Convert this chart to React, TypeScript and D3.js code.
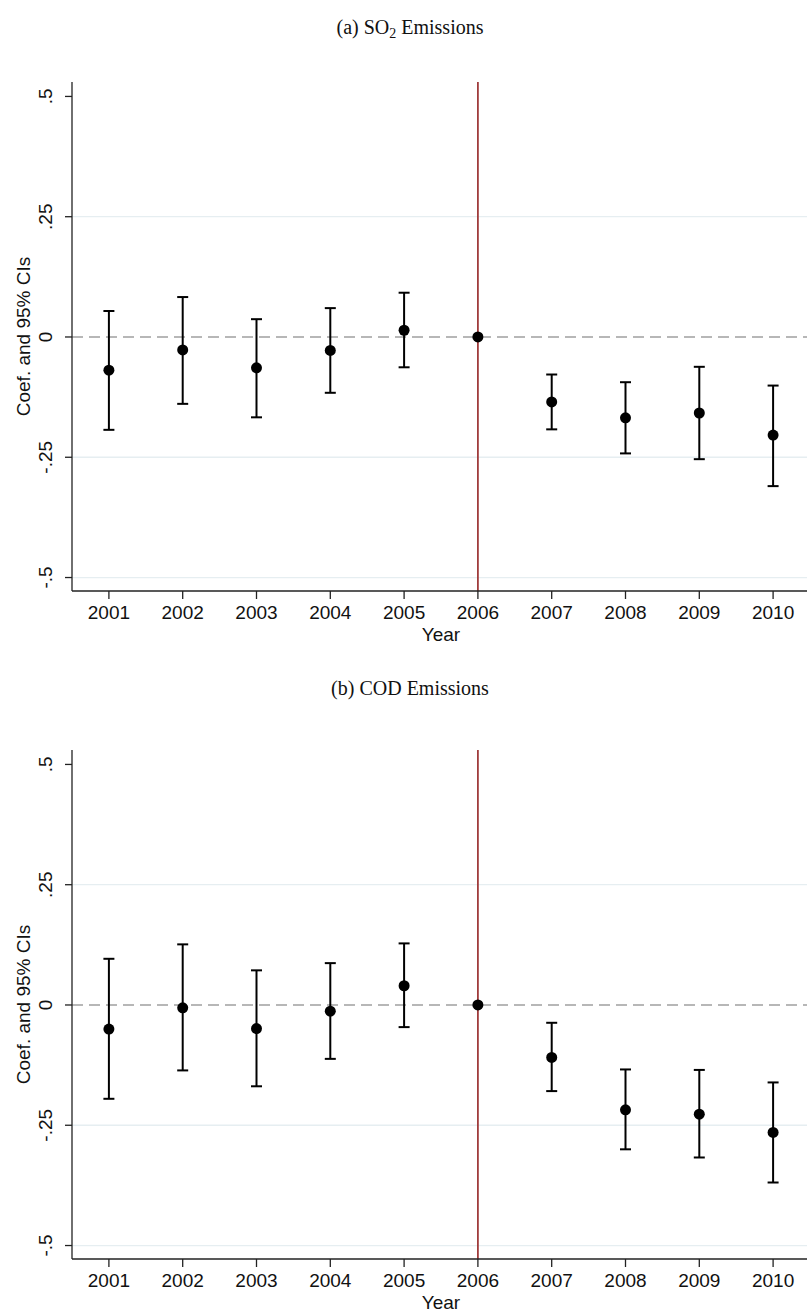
import React from "react";
import * as d3 from "d3";

const years = [2001, 2002, 2003, 2004, 2005, 2006, 2007, 2008, 2009, 2010];
const yTicks = [-0.5, -0.25, 0, 0.25, 0.5];
const yTickLabels = ["-.5", "-.25", "0", ".25", ".5"];

const so2Coef = [-0.069, -0.027, -0.064, -0.028, 0.014, 0, -0.135, -0.168, -0.158, -0.204];
const so2Lo = [-0.193, -0.139, -0.167, -0.116, -0.063, 0, -0.192, -0.242, -0.254, -0.31];
const so2Hi = [0.054, 0.083, 0.037, 0.06, 0.092, 0, -0.078, -0.094, -0.062, -0.101];

const codCoef = [-0.05, -0.006, -0.049, -0.013, 0.04, 0, -0.109, -0.218, -0.227, -0.265];
const codLo = [-0.195, -0.136, -0.169, -0.112, -0.046, 0, -0.179, -0.3, -0.317, -0.369];
const codHi = [0.096, 0.126, 0.072, 0.087, 0.128, 0, -0.037, -0.134, -0.135, -0.161];

const panels = [
  { title: "(a) SO", sub: "2", rest: " Emissions", titleY: 34, coef: so2Coef, lo: so2Lo, hi: so2Hi },
  { title: "(b) COD Emissions", sub: "", rest: "", titleY: 27, coef: codCoef, lo: codLo, hi: codHi },
];

const W = 807;
const H = 1312;
const PANEL_H = 668;
const sans = "'Liberation Sans', Arial, Helvetica, sans-serif";
const serif = "'Palatino Linotype', Palatino, 'Book Antiqua', 'Liberation Serif', serif";

function Panel({ p, offset }: { p: any; offset: number }) {
  const x = d3.scaleLinear().domain([2000.5, 2010.5]).range([72, 810]);
  const y = d3.scaleLinear().domain([-0.528, 0.53]).range([591, 82]);
  const [x0] = x.range();
  const [yb, yt] = y.range();
  const cap = 5.5;
  return (
    <g transform={`translate(0,${offset})`}>
      <text x={410} y={p.titleY} textAnchor="middle" fontFamily={serif} fontSize={20} fill="#111">
        {p.title}
        {p.sub ? (
          <tspan dy={4} fontSize={14}>
            {p.sub}
          </tspan>
        ) : null}
        {p.rest ? <tspan dy={p.sub ? -4 : 0}>{p.rest}</tspan> : null}
      </text>
      {/* grid */}
      {[0.25, -0.25, -0.5].map((t) => (
        <line key={t} x1={x0} x2={W} y1={y(t)} y2={y(t)} stroke="#e6eef1" strokeWidth={1.3} />
      ))}
      {/* zero dashed line */}
      <line x1={x0} x2={W} y1={y(0)} y2={y(0)} stroke="#a0a0a0" strokeWidth={1.6} strokeDasharray="11,6" />
      {/* red vertical line */}
      <line x1={x(2006)} x2={x(2006)} y1={yt} y2={yb} stroke="#a03c3c" strokeWidth={1.8} />
      {/* axes */}
      <line x1={x0} x2={x0} y1={yt} y2={yb} stroke="#222" strokeWidth={1.3} />
      <line x1={x0} x2={W} y1={yb} y2={yb} stroke="#222" strokeWidth={1.3} />
      {yTicks.map((t, i) => (
        <g key={t}>
          <line x1={x0 - 7} x2={x0} y1={y(t)} y2={y(t)} stroke="#222" strokeWidth={1.3} />
          <text
            transform={`translate(${52},${y(t)}) rotate(-90)`}
            textAnchor="middle"
            fontFamily={sans}
            fontSize={19}
            fill="#111"
          >
            {yTickLabels[i]}
          </text>
        </g>
      ))}
      <text
        transform={`translate(${30},${(yt + yb) / 2}) rotate(-90)`}
        textAnchor="middle"
        fontFamily={sans}
        fontSize={19}
        fill="#111"
      >
        Coef. and 95% CIs
      </text>
      {years.map((yr) => (
        <g key={yr}>
          <line x1={x(yr)} x2={x(yr)} y1={yb} y2={yb + 8} stroke="#222" strokeWidth={1.3} />
          <text x={x(yr)} y={619} textAnchor="middle" fontFamily={sans} fontSize={19} fill="#111">
            {yr}
          </text>
        </g>
      ))}
      <text x={(x0 + 810) / 2} y={641} textAnchor="middle" fontFamily={sans} fontSize={19} fill="#111">
        Year
      </text>
      {/* error bars */}
      {years.map((yr, i) =>
        p.hi[i] !== p.lo[i] ? (
          <g key={"e" + yr} stroke="#000" strokeWidth={2}>
            <line x1={x(yr)} x2={x(yr)} y1={y(p.hi[i])} y2={y(p.lo[i])} />
            <line x1={x(yr) - cap} x2={x(yr) + cap} y1={y(p.hi[i])} y2={y(p.hi[i])} />
            <line x1={x(yr) - cap} x2={x(yr) + cap} y1={y(p.lo[i])} y2={y(p.lo[i])} />
          </g>
        ) : null
      )}
      {years.map((yr, i) => (
        <circle key={"c" + yr} cx={x(yr)} cy={y(p.coef[i])} r={5.5} fill="#000" />
      ))}
    </g>
  );
}

export default function App() {
  return (
    <svg width={W} height={H} style={{ display: "block", position: "absolute", left: 0, top: 0, background: "#fff" }}>
      <rect width={W} height={H} fill="#fff" />
      {panels.map((p, i) => (
        <Panel key={i} p={p} offset={i * PANEL_H} />
      ))}
    </svg>
  );
}
